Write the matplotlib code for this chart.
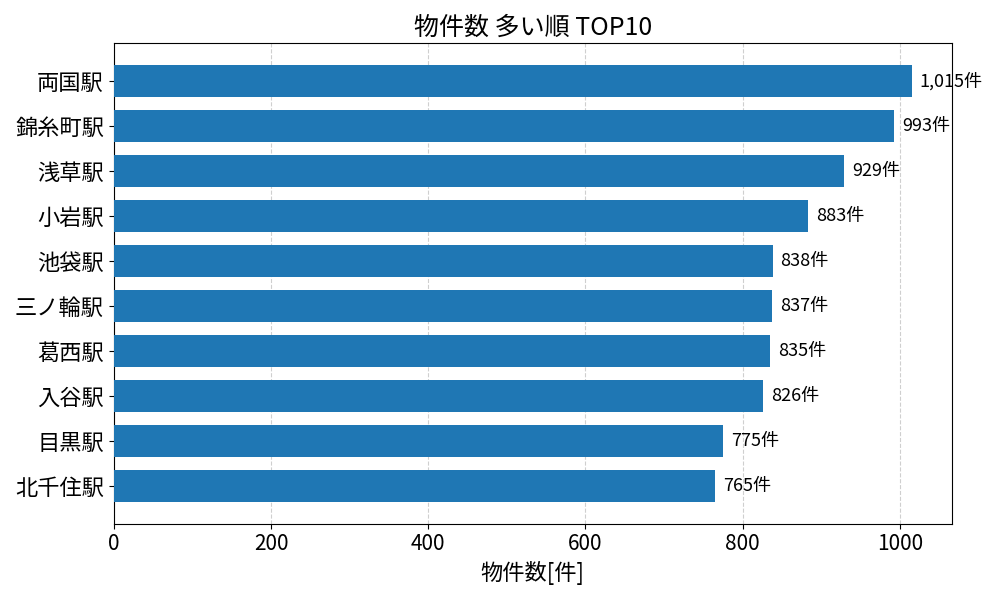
import matplotlib
matplotlib.use("Agg")
import matplotlib.pyplot as plt

plt.rcParams['font.family'] = ['Noto Sans CJK JP', 'DejaVu Sans']

stations = ["両国駅", "錦糸町駅", "浅草駅", "小岩駅", "池袋駅", "三ノ輪駅", "葛西駅", "入谷駅", "目黒駅", "北千住駅"]
counts = [1015, 993, 929, 883, 838, 837, 835, 826, 775, 765]

fig, ax = plt.subplots(figsize=(10, 6), dpi=100)
ypos = list(range(len(stations)))[::-1]
ax.barh(ypos, counts, height=0.7, color="#1f77b4", zorder=3)
ax.set_yticks(ypos)
ax.set_yticklabels(stations, fontsize=16)
ax.tick_params(axis='x', labelsize=15)
ax.set_xlim(0, max(counts) * 1.05)
ax.grid(axis='x', linestyle='--', alpha=0.6, zorder=0)
for y, v in zip(ypos, counts):
    ax.text(v + 10, y, f"{v:,}件", va='center', ha='left', fontsize=13, zorder=4)
ax.set_xlabel("物件数[件]", fontsize=16)
ax.set_title("物件数 多い順 TOP10", fontsize=18)
fig.tight_layout()
fig.savefig("out.png")
